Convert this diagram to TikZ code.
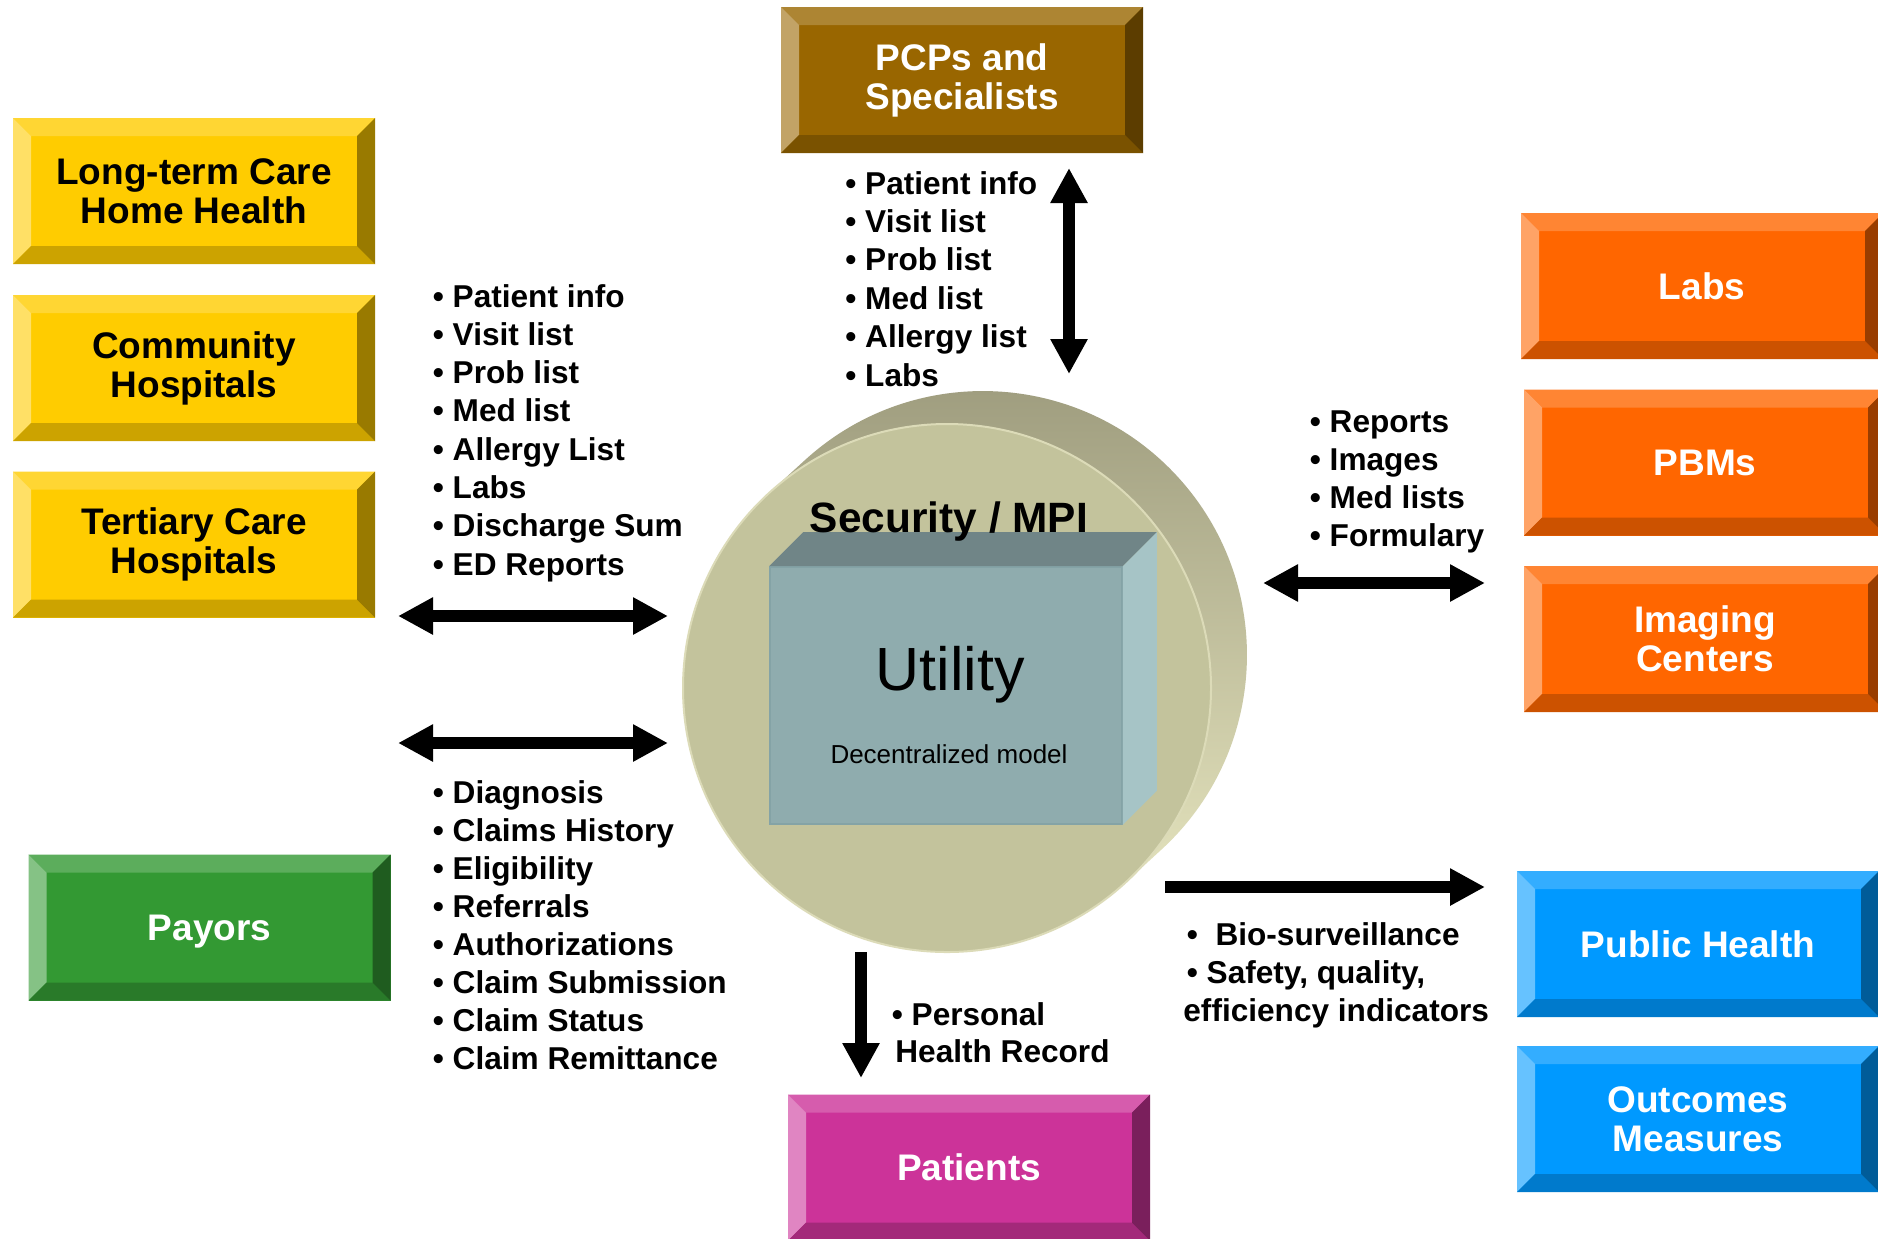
\documentclass[tikz,border=0pt]{standalone}
\usepackage{fontspec}
\setmainfont{Liberation Sans}
\usetikzlibrary{arrows.meta}

\definecolor{yellowface}{HTML}{FFCC00}
\definecolor{orangeface}{HTML}{FF6600}
\definecolor{blueface}{HTML}{0099FF}
\definecolor{brownface}{HTML}{996600}
\definecolor{greenface}{HTML}{339933}
\definecolor{pinkface}{HTML}{CC3399}
\definecolor{discface}{HTML}{C3C39C}
\definecolor{discrim}{HTML}{DCDBB8}
\definecolor{disctop}{HTML}{9C9A7C}
\definecolor{discmid}{HTML}{D8D7B1}
\definecolor{discside}{HTML}{E3E2BC}
\definecolor{cubefront}{HTML}{8FACAE}
\definecolor{cubeedge}{HTML}{84A3A6}
\definecolor{cubetop}{HTML}{708587}
\definecolor{cubeside}{HTML}{A6C4C6}

\tikzset{
  bevelbox/.style={
    fill=#1, inner sep=0pt, outer sep=0pt, align=center, text=white,
    minimum width=181pt, minimum height=73pt,
    font=\fontsize{18.5}{19.5}\selectfont\bfseries,
    path picture={
      \path (path picture bounding box.north west) coordinate (nw)
            (path picture bounding box.north east) coordinate (ne)
            (path picture bounding box.south west) coordinate (sw)
            (path picture bounding box.south east) coordinate (se);
      \fill[#1!80!white] (nw) -- (ne) -- ([shift={(-9pt,-9pt)}]ne) -- ([shift={(9pt,-9pt)}]nw) -- cycle;
      \fill[#1!60!white] (nw) -- ([shift={(9pt,-9pt)}]nw) -- ([shift={(9pt,9pt)}]sw) -- (sw) -- cycle;
      \fill[#1!80!black] (sw) -- ([shift={(9pt,9pt)}]sw) -- ([shift={(-9pt,9pt)}]se) -- (se) -- cycle;
      \fill[#1!60!black] (se) -- ([shift={(-9pt,9pt)}]se) -- ([shift={(-9pt,-9pt)}]ne) -- (ne) -- cycle;
    }
  },
  listtext/.style={anchor=base west, inner sep=0pt, font=\fontsize{15.8}{19}\selectfont\bfseries},
  flow/.style={line width=5.6pt, -{Triangle[length=17.5pt,width=17.5pt]}},
  dflow/.style={line width=5.6pt, {Triangle[length=17.5pt,width=17.5pt]}-{Triangle[length=17.5pt,width=17.5pt]}}
}

\begin{document}
\begin{tikzpicture}[x=0.5pt, y=-0.5pt]
	\useasboundingbox (0,0) rectangle (1878,1238);
	\clip (0,0) rectangle (1878,1238);
	\fill[white] (0,0) rectangle (1878,1238);

	% the disc
	\shade[top color=disctop, middle color=discmid, bottom color=discside]
		(768.5,493.4) -- (804.6,460.4) arc[start angle=227.5, end angle=407.5, radius=264] -- (1125.5,882.6) -- cycle;
	\fill[discface, draw=discrim, line width=1pt] (947,688) circle[radius=264];

	% the box on the disc
	\node[fill=cubefront, draw=cubeedge, line width=0.8pt, minimum width=176pt, minimum height=128.5pt, inner sep=0pt] (cube) at (946,695.5) {};
	\fill[cubetop] (cube.north west) -- ++(34,-34) -- ([shift={(34,-34)}]cube.north east) -- (cube.north east) -- cycle;
	\fill[cubeside] (cube.north east) -- ++(34,-34) -- ([shift={(34,-34)}]cube.south east) -- (cube.south east) -- cycle;

	\node[anchor=base, inner sep=0pt, font=\fontsize{21.2}{24}\selectfont\bfseries] (mpi) at (949,532) {Security / MPI};
	\node[anchor=base, inner sep=0pt, font=\fontsize{30.5}{34}\selectfont] (utility) at (950,690) {Utility};
	\node[anchor=base, inner sep=0pt, font=\fontsize{13}{15}\selectfont] (model) at (949,763) {Decentralized model};

	% boxes
	\node[bevelbox=yellowface, text=black] (ltc) at (194,191) {Long-term Care\\Home Health};
	\node[bevelbox=yellowface, text=black] (community) at (194,368) {Community\\Hospitals};
	\node[bevelbox=yellowface, text=black] (tertiary) at (194,544.5) {Tertiary Care\\Hospitals};
	\node[bevelbox=greenface, text depth=0pt] (payors) at (209.5,927.5) {Payors};
	\node[bevelbox=brownface] (pcps) at (962,80) {PCPs and\\Specialists};
	\node[bevelbox=pinkface] (patients) at (969,1167.5) {Patients};
	\node[bevelbox=orangeface] (labs) at (1702,286) {Labs};
	\node[bevelbox=orangeface] (pbms) at (1705,462.5) {PBMs};
	\node[bevelbox=orangeface] (imaging) at (1705,639) {Imaging\\Centers};
	\node[bevelbox=blueface] (public) at (1698,944) {Public Health};
	\node[bevelbox=blueface] (outcomes) at (1698,1119) {Outcomes\\Measures};

	% lists
	\foreach \entry [count=\i from 0] in {Patient info, Visit list, Prob list, Med list, Allergy list, Labs}
		\node[listtext] (pcpitem\i) at (845, 194+38.4*\i) {• \entry};
	\foreach \entry [count=\i from 0] in {Patient info, Visit list, Prob list, Med list, Allergy List, Labs, Discharge Sum, ED Reports}
		\node[listtext] (hospitem\i) at (432.5, 307+38.3*\i) {• \entry};
	\foreach \entry [count=\i from 0] in {Diagnosis, Claims History, Eligibility, Referrals, Authorizations, Claim Submission, Claim Status, Claim Remittance}
		\node[listtext] (payitem\i) at (432.5, 803+38.1*\i) {• \entry};
	\foreach \entry [count=\i from 0] in {Reports, Images, Med lists, Formulary}
		\node[listtext] (labitem\i) at (1309.5, 432+38.3*\i) {• \entry};

	\node[listtext] (bio) at (1186.5,945) {•\ \ Bio-surveillance};
	\node[listtext] (safety) at (1186.5,983) {• Safety, quality,};
	\node[listtext] (efficiency) at (1183,1021) {efficiency indicators};
	\node[listtext] (personal) at (891.5,1025) {• Personal};
	\node[listtext] (record) at (895,1062) {Health Record};

	% arrows
	\coordinate (pcpA) at (1069,168);
	\coordinate (pcpB) at (1069,374);
	\coordinate (hospA) at (398,616);
	\coordinate (hospB) at (668,616);
	\coordinate (payA) at (398,743);
	\coordinate (payB) at (668,743);
	\coordinate (labA) at (1263,583);
	\coordinate (labB) at (1485,583);
	\coordinate (pubA) at (1165,887);
	\coordinate (pubB) at (1485,887);
	\coordinate (patA) at (861,952);
	\coordinate (patB) at (861,1078);

	\draw[dflow] (pcpA) -- (pcpB);
	\draw[dflow] (hospA) -- (hospB);
	\draw[dflow] (payA) -- (payB);
	\draw[dflow] (labA) -- (labB);
	\draw[flow] (pubA) -- (pubB);
	\draw[flow] (patA) -- (patB);
\end{tikzpicture}
\end{document}
